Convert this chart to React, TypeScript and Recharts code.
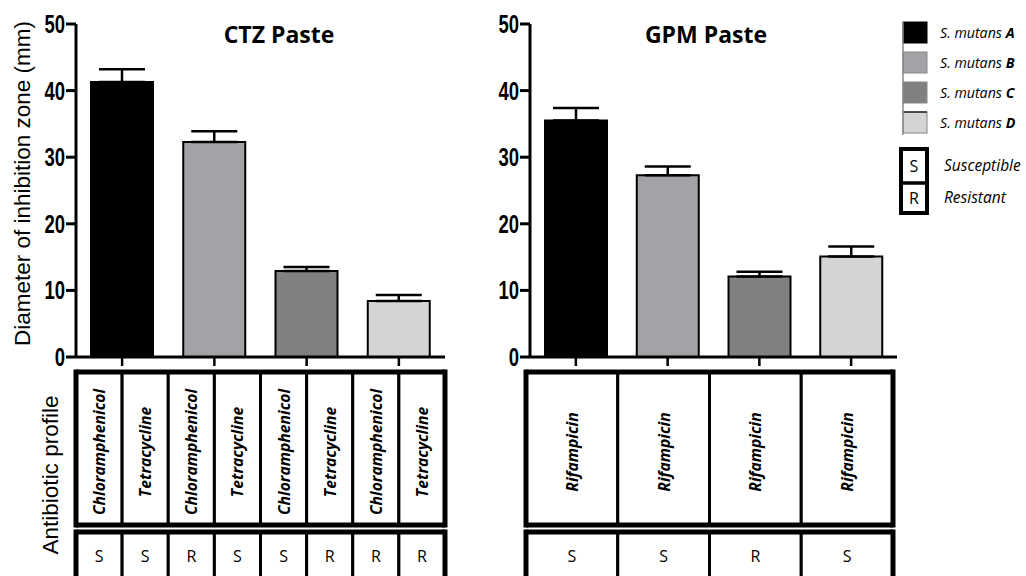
import React from 'react';
import { BarChart, Bar, XAxis, YAxis, ErrorBar, Cell, Label } from 'recharts';

const strains = ['S. mutans A', 'S. mutans B', 'S. mutans C', 'S. mutans D'];
const strainLetters = ['A', 'B', 'C', 'D'];
const barColors = ['#000000', '#a3a3a7', '#808080', '#d4d4d4'];

const ctzMeans = [41.3, 32.3, 12.9, 8.4];
const ctzErrors = [1.9, 1.6, 0.6, 0.9];
const gpmMeans = [35.5, 27.3, 12.1, 15.1];
const gpmErrors = [1.9, 1.3, 0.7, 1.5];

const ctzAntibiotics = [
  ['Chloramphenicol', 'Tetracycline'],
  ['Chloramphenicol', 'Tetracycline'],
  ['Chloramphenicol', 'Tetracycline'],
  ['Chloramphenicol', 'Tetracycline'],
];
const ctzProfile = [['S', 'S'], ['R', 'S'], ['S', 'R'], ['R', 'R']];
const gpmAntibiotics = [['Rifampicin'], ['Rifampicin'], ['Rifampicin'], ['Rifampicin']];
const gpmProfile = [['S'], ['S'], ['R'], ['S']];

const yTicks = [0, 10, 20, 30, 40, 50];
const profileKey = [
  { code: 'S', label: 'Susceptible' },
  { code: 'R', label: 'Resistant' },
];

const X_TICK = 9;
const CELL_FONT = '"Open Sans", sans-serif';
const AXIS_FONT = '"Liberation Sans", Arial, sans-serif';

const buildRows = (means: number[], errors: number[]) =>
  strains.map((name, i) => ({ name, value: means[i], err: [0, errors[i]] }));

const YTick = (props: any) => {
  const { x, y, payload } = props;
  return (
    <g transform={`translate(${x},${y}) scale(0.74,1)`}>
      <text x={0} y={0} dy="0.36em" textAnchor="end" fontFamily={AXIS_FONT} fontWeight={700} fontSize={25} fill="#000">
        {payload.value}
      </text>
    </g>
  );
};

const makeProfileTick = (antibiotics: string[][], profile: string[][], shift: number) => (props: any) => {
  const { x, y, width, visibleTicksCount, index } = props;
  const band = width / visibleTicksCount;
  const base = y - X_TICK;
  const names = antibiotics[index];
  const marks = profile[index];
  const sub = band / names.length;
  const left = x - band / 2 + shift;
  const t1 = base + 15;
  const b1 = base + 168;
  const t2 = base + 175;
  const b2 = base + 260;
  const isFirst = index === 0;
  const isLast = index === visibleTicksCount - 1;
  return (
    <g>
      {names.map((name, j) => {
        const cx = left + sub * j + sub / 2;
        const cy = base + 95;
        return (
          <g key={j}>
            <rect x={left + sub * j} y={t1} width={sub} height={b1 - t1} fill="#fff" stroke="#000" strokeWidth={3} />
            <rect x={left + sub * j} y={t2} width={sub} height={b2 - t2} fill="#fff" stroke="#000" strokeWidth={3} />
            <text
              x={cx}
              y={cy}
              transform={`rotate(-90 ${cx} ${cy})`}
              textAnchor="middle"
              dominantBaseline="central"
              fontFamily={CELL_FONT}
              fontStyle="italic"
              fontWeight={700}
              fontSize={15.7}
              fill="#000"
            >
              {name}
            </text>
            <text
              x={cx}
              y={base + 199}
              textAnchor="middle"
              dominantBaseline="central"
              fontFamily={CELL_FONT}
              fontSize={16}
              fill="#000"
            >
              {marks[j]}
            </text>
          </g>
        );
      })}
      <line x1={left} x2={left + band} y1={t1} y2={t1} stroke="#000" strokeWidth={5} />
      <line x1={left} x2={left + band} y1={b1} y2={b1} stroke="#000" strokeWidth={5} />
      <line x1={left} x2={left + band} y1={t2} y2={t2} stroke="#000" strokeWidth={5} />
      {isFirst && (
        <>
          <line x1={left} x2={left} y1={t1 - 2.5} y2={b1 + 2.5} stroke="#000" strokeWidth={5} />
          <line x1={left} x2={left} y1={t2 - 2.5} y2={b2} stroke="#000" strokeWidth={5} />
        </>
      )}
      {isLast && (
        <>
          <line x1={left + band} x2={left + band} y1={t1 - 2.5} y2={b1 + 2.5} stroke="#000" strokeWidth={5} />
          <line x1={left + band} x2={left + band} y1={t2 - 2.5} y2={b2} stroke="#000" strokeWidth={5} />
        </>
      )}
    </g>
  );
};

const YLabel = (props: any) => {
  const { viewBox } = props;
  const cx = 22;
  const cy = viewBox.y + viewBox.height / 2 - 7;
  return (
    <text
      x={cx}
      y={cy}
      transform={`rotate(-90 ${cx} ${cy})`}
      textAnchor="middle"
      dominantBaseline="central"
      fontFamily={AXIS_FONT}
      fontSize={22.5}
      fill="#000"
    >
      Diameter of inhibition zone (mm)
    </text>
  );
};

interface PanelProps {
  means: number[];
  errors: number[];
  antibiotics: string[][];
  profile: string[][];
  width: number;
  axisWidth: number;
  right: number;
  shift: number;
  withLabel?: boolean;
}

const Panel: React.FC<PanelProps> = ({ means, errors, antibiotics, profile, width, axisWidth, right, shift, withLabel }) => {
  const rows = buildRows(means, errors);
  return (
    <BarChart width={width} height={576} data={rows} margin={{ top: 24, right, left: 0, bottom: 0 }}>
      <XAxis
        dataKey="name"
        type="category"
        height={219}
        axisLine={{ stroke: '#000', strokeWidth: 3 }}
        tickLine={{ stroke: '#000', strokeWidth: 2.5 }}
        tickSize={X_TICK}
        tickMargin={0}
        interval={0}
        tick={makeProfileTick(antibiotics, profile, shift)}
      />
      <YAxis
        width={axisWidth}
        domain={[0, 50]}
        ticks={yTicks}
        interval={0}
        axisLine={{ stroke: '#000', strokeWidth: 3 }}
        tickLine={{ stroke: '#000', strokeWidth: 3 }}
        tickSize={10}
        tickMargin={1}
        tick={<YTick />}
      >
        {withLabel && <Label content={<YLabel />} />}
      </YAxis>
      <Bar dataKey="value" barSize={62} stroke="#000" strokeWidth={2} isAnimationActive={false}>
        {rows.map((r, i) => (
          <Cell key={r.name} fill={barColors[i]} />
        ))}
        <ErrorBar dataKey="err" width={23} stroke="#000" strokeWidth={2.5} isAnimationActive={false} />
      </Bar>
    </BarChart>
  );
};

const Overlay = () => (
  <svg width={1026} height={576} style={{ position: 'absolute', left: 0, top: 0, pointerEvents: 'none' }}>
    <text x={279} y={43} textAnchor="middle" fontFamily={CELL_FONT} fontWeight={700} fontSize={23} fill="#000">
      CTZ Paste
    </text>
    <text x={706} y={43} textAnchor="middle" fontFamily={CELL_FONT} fontWeight={700} fontSize={23} fill="#000">
      GPM Paste
    </text>
    <text
      x={50}
      y={475}
      transform="rotate(-90 50 475)"
      textAnchor="middle"
      dominantBaseline="central"
      fontFamily={AXIS_FONT}
      fontSize={22.5}
      fill="#000"
    >
      Antibiotic profile
    </text>
    {strains.map((s, i) => {
      const top = 22 + i * 30;
      return (
        <g key={s}>
          <rect x={903} y={top} width={24} height={21} fill={barColors[i]} stroke={i === 0 ? '#000' : '#888'} strokeWidth={1} />
          {i === 3 && <line x1={903} x2={927} y1={top} y2={top} stroke="#000" strokeWidth={1.2} />}
          <text x={940} y={top + 16} fontFamily={CELL_FONT} fontStyle="italic" fontSize={14.2} fill="#000">
            {s.slice(0, -1)}
            <tspan fontWeight={700}>{strainLetters[i]}</tspan>
          </text>
        </g>
      );
    })}
    <line x1={903} x2={903} y1={22} y2={135} stroke="#888" strokeWidth={1.5} />
    <rect x={901} y={149} width={26} height={64} fill="#fff" stroke="#000" strokeWidth={4} />
    <line x1={901} x2={927} y1={183} y2={183} stroke="#000" strokeWidth={3.5} />
    {profileKey.map((p, i) => {
      const mid = 166 + i * 32;
      return (
        <g key={p.code}>
          <text x={914} y={mid} textAnchor="middle" dominantBaseline="central" fontFamily={CELL_FONT} fontSize={16} fill="#000">
            {p.code}
          </text>
          <text x={944} y={mid + 5} fontFamily={CELL_FONT} fontStyle="italic" fontSize={15.5} fill="#000">
            {p.label}
          </text>
        </g>
      );
    })}
  </svg>
);

export default function App() {
  return (
    <div style={{ position: 'absolute', left: 0, top: 0, width: 1026, height: 576, background: '#fff', overflow: 'hidden' }}>
      <div style={{ position: 'absolute', left: 0, top: 0 }}>
        <Panel
          means={ctzMeans}
          errors={ctzErrors}
          antibiotics={ctzAntibiotics}
          profile={ctzProfile}
          width={470}
          axisWidth={76}
          right={25}
          shift={0}
          withLabel
        />
      </div>
      <div style={{ position: 'absolute', left: 470, top: 0 }}>
        <Panel
          means={gpmMeans}
          errors={gpmErrors}
          antibiotics={gpmAntibiotics}
          profile={gpmProfile}
          width={430}
          axisWidth={60}
          right={3}
          shift={-4}
        />
      </div>
      <Overlay />
    </div>
  );
}
